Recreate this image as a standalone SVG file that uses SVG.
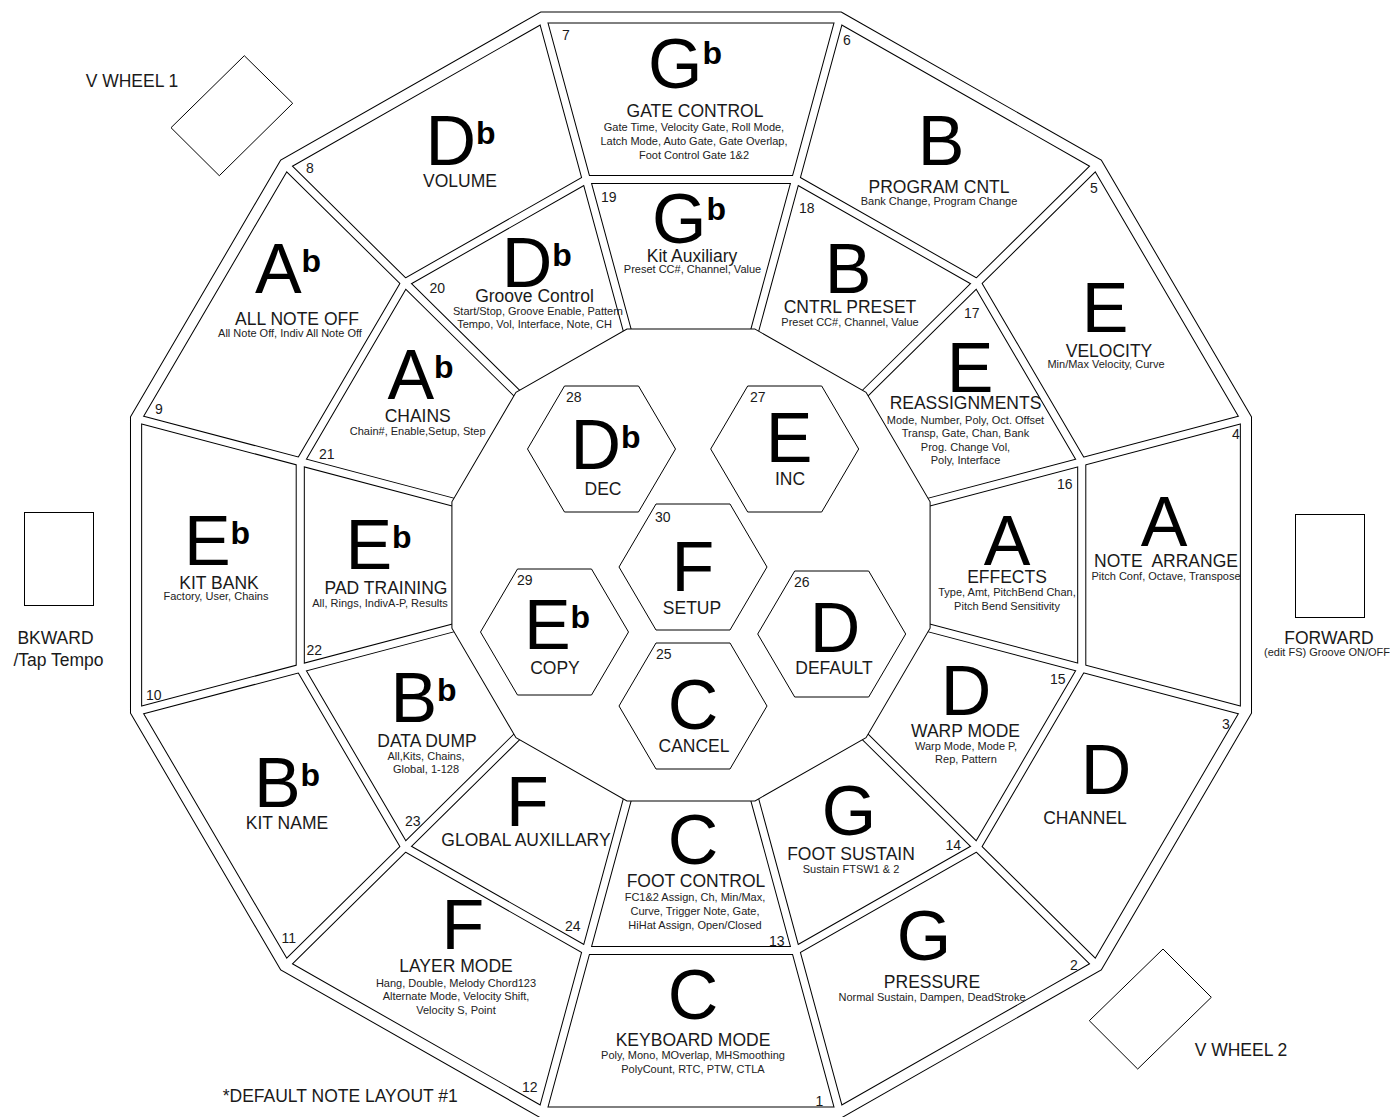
<svg xmlns="http://www.w3.org/2000/svg" width="1390" height="1117" viewBox="0 0 1390 1117">
<defs>
<style>
text{font-family:"Liberation Sans",Arial,Helvetica,sans-serif;fill:#1a1a1a}
.big{font-size:70px;text-anchor:middle;fill:#000}
.sup{font-size:32px;font-weight:bold}
.lbl{font-size:17.5px;text-anchor:middle}
.sub{font-size:11px;text-anchor:middle;fill:#222}
.num{font-size:14px}
.ext{font-size:17.5px;text-anchor:middle}
.bk{fill:none;stroke:#000;stroke-linejoin:miter}
.wt{fill:none;stroke:#fff;stroke-linejoin:miter}
.hex{fill:#fff;stroke:#000;stroke-width:1}
.box{fill:#fff;stroke:#000;stroke-width:1}
</style>
</defs>
<rect width="1390" height="1117" fill="#fff"/>

<g id="connectors" transform="translate(691 565) scale(1.0136 1)">
  <polygon class="bk" stroke-width="12" points="146.7,-547.49 400.79,-400.79 547.49,-146.7 547.49,146.7 400.79,400.79 146.7,547.49 -146.7,547.49 -400.79,400.79 -547.49,146.7 -547.49,-146.7 -400.79,-400.79 -146.7,-547.49"/>
  <polygon class="bk" stroke-width="9" points="103.3,-385.5 282.2,-282.2 385.5,-103.3 385.5,103.3 282.2,282.2 103.3,385.5 -103.3,385.5 -282.2,282.2 -385.5,103.3 -385.5,-103.3 -282.2,-282.2 -103.3,-385.5"/>
  <path class="bk" stroke-width="9" d="M146.7,-547.49L51.76,-193.19M400.79,-400.79L141.42,-141.42M547.49,-146.7L193.19,-51.76M547.49,146.7L193.19,51.76M400.79,400.79L141.42,141.42M146.7,547.49L51.76,193.19M-146.7,547.49L-51.76,193.19M-400.79,400.79L-141.42,141.42M-547.49,146.7L-193.19,51.76M-547.49,-146.7L-193.19,-51.76M-400.79,-400.79L-141.42,-141.42M-146.7,-547.49L-51.76,-193.19"/>
  <polygon class="wt" stroke-width="10" points="146.7,-547.49 400.79,-400.79 547.49,-146.7 547.49,146.7 400.79,400.79 146.7,547.49 -146.7,547.49 -400.79,400.79 -547.49,146.7 -547.49,-146.7 -400.79,-400.79 -146.7,-547.49"/>
  <polygon class="wt" stroke-width="7" points="103.3,-385.5 282.2,-282.2 385.5,-103.3 385.5,103.3 282.2,282.2 103.3,385.5 -103.3,385.5 -282.2,282.2 -385.5,103.3 -385.5,-103.3 -282.2,-282.2 -103.3,-385.5"/>
  <path class="wt" stroke-width="7" d="M146.7,-547.49L51.76,-193.19M400.79,-400.79L141.42,-141.42M547.49,-146.7L193.19,-51.76M547.49,146.7L193.19,51.76M400.79,400.79L141.42,141.42M146.7,547.49L51.76,193.19M-146.7,547.49L-51.76,193.19M-400.79,400.79L-141.42,141.42M-547.49,146.7L-193.19,51.76M-547.49,-146.7L-193.19,-51.76M-400.79,-400.79L-141.42,-141.42M-146.7,-547.49L-51.76,-193.19"/>
  <polygon fill="#fff" stroke="#000" stroke-width="1" points="63.2,-235.88 172.68,-172.68 235.88,-63.2 235.88,63.2 172.68,172.68 63.2,235.88 -63.2,235.88 -172.68,172.68 -235.88,63.2 -235.88,-63.2 -172.68,-172.68 -63.2,-235.88"/>
</g>

<!-- outer ring cells -->
<g id="cell-7">
  <text class="num" x="562" y="40">7</text>
  <text class="big" x="685" y="88">G<tspan class="sup" dy="-24">b</tspan></text>
  <text class="lbl" x="695" y="117">GATE CONTROL</text>
  <text class="sub" x="694" y="131">Gate Time, Velocity Gate, Roll Mode,</text>
  <text class="sub" x="694" y="145">Latch Mode, Auto Gate, Gate Overlap,</text>
  <text class="sub" x="694" y="159">Foot Control Gate 1&amp;2</text>
</g>
<g id="cell-6">
  <text class="num" x="843" y="45">6</text>
  <text class="big" x="941" y="165">B</text>
  <text class="lbl" x="939" y="192.5">PROGRAM CNTL</text>
  <text class="sub" x="939" y="205">Bank Change, Program Change</text>
</g>
<g id="cell-5">
  <text class="num" x="1090" y="193">5</text>
  <text class="big" x="1105" y="331.5">E</text>
  <text class="lbl" x="1109" y="356.5">VELOCITY</text>
  <text class="sub" x="1106" y="368">Min/Max Velocity, Curve</text>
</g>
<g id="cell-4">
  <text class="num" x="1232" y="439">4</text>
  <text class="big" x="1164" y="546">A</text>
  <text class="lbl" x="1166" y="567">NOTE&#160; ARRANGE</text>
  <text class="sub" x="1166" y="580">Pitch Conf, Octave, Transpose</text>
</g>
<g id="cell-3">
  <text class="num" x="1222" y="729">3</text>
  <text class="big" x="1106" y="794">D</text>
  <text class="lbl" x="1085" y="824">CHANNEL</text>
</g>
<g id="cell-2">
  <text class="num" x="1070" y="970">2</text>
  <text class="big" x="924" y="960">G</text>
  <text class="lbl" x="932" y="988">PRESSURE</text>
  <text class="sub" x="932" y="1001">Normal Sustain, Dampen, DeadStroke</text>
</g>
<g id="cell-1">
  <text class="num" x="815.5" y="1105.5">1</text>
  <text class="big" x="693" y="1019">C</text>
  <text class="lbl" x="693" y="1045.5">KEYBOARD MODE</text>
  <text class="sub" x="693" y="1059">Poly, Mono, MOverlap, MHSmoothing</text>
  <text class="sub" x="693" y="1072.5">PolyCount, RTC, PTW, CTLA</text>
</g>
<g id="cell-12">
  <text class="num" x="522" y="1091.5">12</text>
  <text class="big" x="463" y="949">F</text>
  <text class="lbl" x="456" y="972">LAYER MODE</text>
  <text class="sub" x="456" y="986.5">Hang, Double, Melody Chord123</text>
  <text class="sub" x="456" y="1000">Alternate Mode, Velocity Shift,</text>
  <text class="sub" x="456" y="1013.5">Velocity S, Point</text>
</g>
<g id="cell-11">
  <text class="num" x="281.5" y="943">11</text>
  <text class="big" x="287" y="807">B<tspan class="sup" dy="-21">b</tspan></text>
  <text class="lbl" x="287" y="829">KIT NAME</text>
</g>
<g id="cell-10">
  <text class="num" x="146" y="700">10</text>
  <text class="big" x="217" y="565">E<tspan class="sup" dy="-21">b</tspan></text>
  <text class="lbl" x="219" y="588.5">KIT BANK</text>
  <text class="sub" x="216" y="600">Factory, User, Chains</text>
</g>
<g id="cell-9">
  <text class="num" x="155" y="413.5">9</text>
  <text class="big" x="288" y="293">A<tspan class="sup" dy="-21">b</tspan></text>
  <text class="lbl" x="297" y="325">ALL NOTE OFF</text>
  <text class="sub" x="290" y="336.5">All Note Off, Indiv All Note Off</text>
</g>
<g id="cell-8">
  <text class="num" x="306" y="172.5">8</text>
  <text class="big" x="460.5" y="165">D<tspan class="sup" dy="-21">b</tspan></text>
  <text class="lbl" x="460" y="187">VOLUME</text>
</g>

<!-- middle ring cells -->
<g id="cell-19">
  <text class="num" x="601" y="201.5">19</text>
  <text class="big" x="689" y="243">G<tspan class="sup" dy="-23">b</tspan></text>
  <text class="lbl" x="692" y="261.5">Kit Auxiliary</text>
  <text class="sub" x="692.5" y="273">Preset CC#, Channel, Value</text>
</g>
<g id="cell-18">
  <text class="num" x="799" y="213">18</text>
  <text class="big" x="848" y="293">B</text>
  <text class="lbl" x="850" y="313">CNTRL PRESET</text>
  <text class="sub" x="850" y="326">Preset CC#, Channel, Value</text>
</g>
<g id="cell-17">
  <text class="num" x="964" y="318">17</text>
  <text class="big" x="970" y="392">E</text>
  <text class="lbl" x="965.5" y="409">REASSIGNMENTS</text>
  <text class="sub" x="965.5" y="423.5">Mode, Number, Poly, Oct. Offset</text>
  <text class="sub" x="965.5" y="437">Transp, Gate, Chan, Bank</text>
  <text class="sub" x="965.5" y="450.5">Prog. Change Vol,</text>
  <text class="sub" x="965.5" y="463.5">Poly, Interface</text>
</g>
<g id="cell-16">
  <text class="num" x="1057" y="488.5">16</text>
  <text class="big" x="1007" y="565">A</text>
  <text class="lbl" x="1007" y="582.5">EFFECTS</text>
  <text class="sub" x="1007" y="596">Type, Amt, PitchBend Chan,</text>
  <text class="sub" x="1007" y="609.5">Pitch Bend Sensitivity</text>
</g>
<g id="cell-15">
  <text class="num" x="1050" y="683.5">15</text>
  <text class="big" x="966" y="715">D</text>
  <text class="lbl" x="965.5" y="737">WARP MODE</text>
  <text class="sub" x="966" y="750">Warp Mode, Mode P,</text>
  <text class="sub" x="966" y="763">Rep, Pattern</text>
</g>
<g id="cell-14">
  <text class="num" x="945.5" y="850">14</text>
  <text class="big" x="849" y="834.5">G</text>
  <text class="lbl" x="851" y="860">FOOT SUSTAIN</text>
  <text class="sub" x="851" y="873">Sustain FTSW1 &amp; 2</text>
</g>
<g id="cell-13">
  <text class="num" x="769" y="945.5">13</text>
  <text class="big" x="693" y="864">C</text>
  <text class="lbl" x="696" y="887">FOOT CONTROL</text>
  <text class="sub" x="695" y="901">FC1&amp;2 Assign, Ch, Min/Max,</text>
  <text class="sub" x="695" y="915">Curve, Trigger Note, Gate,</text>
  <text class="sub" x="695" y="929">HiHat Assign, Open/Closed</text>
</g>
<g id="cell-24">
  <text class="num" x="565" y="930.5">24</text>
  <text class="big" x="527.5" y="825.5">F</text>
  <text class="lbl" x="526" y="845.5">GLOBAL AUXILLARY</text>
</g>
<g id="cell-23">
  <text class="num" x="405" y="825.5">23</text>
  <text class="big" x="423.5" y="722">B<tspan class="sup" dy="-21">b</tspan></text>
  <text class="lbl" x="427" y="747">DATA DUMP</text>
  <text class="sub" x="426" y="759.5">All,Kits, Chains,</text>
  <text class="sub" x="426" y="772.5">Global, 1-128</text>
</g>
<g id="cell-22">
  <text class="num" x="306.5" y="655">22</text>
  <text class="big" x="378.5" y="568.5">E<tspan class="sup" dy="-21">b</tspan></text>
  <text class="lbl" x="386" y="593.5">PAD TRAINING</text>
  <text class="sub" x="380" y="607">All, Rings, IndivA-P, Results</text>
</g>
<g id="cell-21">
  <text class="num" x="319" y="458.5">21</text>
  <text class="big" x="420.5" y="399">A<tspan class="sup" dy="-21">b</tspan></text>
  <text class="lbl" x="417.7" y="422">CHAINS</text>
  <text class="sub" x="417.7" y="435">Chain#, Enable,Setup, Step</text>
</g>
<g id="cell-20">
  <text class="num" x="429.5" y="293">20</text>
  <text class="big" x="536.7" y="286.5">D<tspan class="sup" dy="-21">b</tspan></text>
  <text class="lbl" x="534.5" y="301.5">Groove Control</text>
  <text class="sub" x="538" y="315">Start/Stop, Groove Enable, Pattern</text>
  <text class="sub" x="534.5" y="328">Tempo, Vol, Interface, Note, CH</text>
</g>

<!-- center hexagons -->
<g id="hex-28">
  <polygon class="hex" points="527.5,449 564.5,386 638.5,386 675.5,449 638.5,512 564.5,512"/>
  <text class="num" x="566" y="402">28</text>
  <text class="big" x="605.5" y="468.5">D<tspan class="sup" dy="-21">b</tspan></text>
  <text class="lbl" x="603" y="494.5">DEC</text>
</g>
<g id="hex-27">
  <polygon class="hex" points="710.7,449 747.7,386 821.7,386 858.7,449 821.7,512 747.7,512"/>
  <text class="num" x="750" y="402">27</text>
  <text class="big" x="789" y="462">E</text>
  <text class="lbl" x="790" y="484.5">INC</text>
</g>
<g id="hex-30">
  <polygon class="hex" points="619,567 656,504 730,504 767,567 730,630 656,630"/>
  <text class="num" x="655" y="522">30</text>
  <text class="big" x="693" y="591">F</text>
  <text class="lbl" x="692" y="613.5">SETUP</text>
</g>
<g id="hex-29">
  <polygon class="hex" points="480.5,632 517.5,569 591.5,569 628.5,632 591.5,695 517.5,695"/>
  <text class="num" x="517" y="584.5">29</text>
  <text class="big" x="557" y="648.5">E<tspan class="sup" dy="-21">b</tspan></text>
  <text class="lbl" x="555" y="673.5">COPY</text>
</g>
<g id="hex-26">
  <polygon class="hex" points="757.7,634 794.7,571 868.7,571 905.7,634 868.7,697 794.7,697"/>
  <text class="num" x="794" y="587">26</text>
  <text class="big" x="835" y="652">D</text>
  <text class="lbl" x="834" y="673.5">DEFAULT</text>
</g>
<g id="hex-25">
  <polygon class="hex" points="619,706 656,643 730,643 767,706 730,769 656,769"/>
  <text class="num" x="656" y="658.5">25</text>
  <text class="big" x="693" y="729">C</text>
  <text class="lbl" x="694" y="752">CANCEL</text>
</g>

<!-- external controls -->
<g id="vwheel1">
  <polygon class="box" points="244.3,55.7 292.7,103.3 219.3,175.7 171,127.7"/>
  <text class="ext" x="132" y="87">V WHEEL 1</text>
</g>
<g id="vwheel2">
  <polygon class="box" points="1163,949 1211.3,997.3 1137.7,1069 1089.3,1020.7"/>
  <text class="ext" x="1241" y="1055.5">V WHEEL 2</text>
</g>
<g id="bkward">
  <rect class="box" x="24.5" y="512.5" width="69" height="93"/>
  <text class="ext" x="55.5" y="644">BKWARD</text>
  <text class="ext" x="58.5" y="666">/Tap Tempo</text>
</g>
<g id="forward">
  <rect class="box" x="1295.5" y="514.5" width="69" height="103"/>
  <text class="ext" x="1329" y="643.5">FORWARD</text>
  <text class="sub" x="1327" y="656">(edit FS) Groove ON/OFF</text>
</g>
<g id="note">
  <text class="ext" x="222.7" y="1102" style="text-anchor:start">*DEFAULT NOTE LAYOUT #1</text>
</g>
</svg>
